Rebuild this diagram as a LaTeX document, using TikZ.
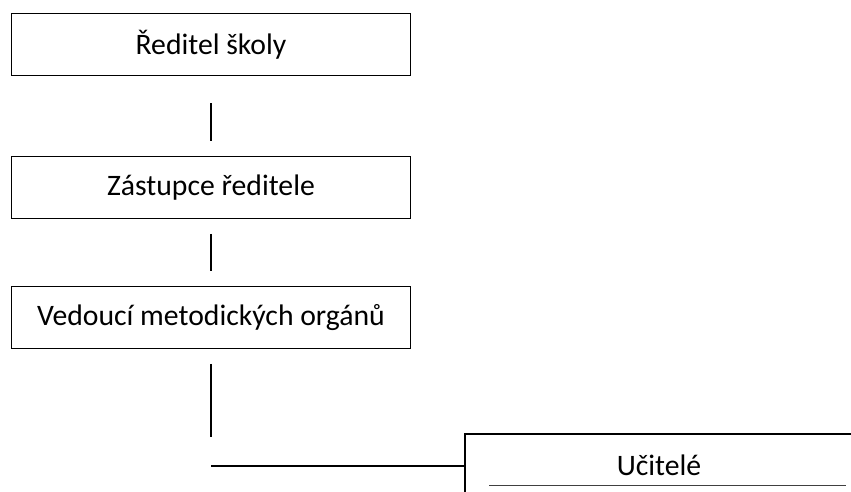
\documentclass[tikz,border=0pt]{standalone}
\usepackage{fontspec}
\setmainfont{Carlito}
\usetikzlibrary{positioning,calc}

\tikzset{
  rolebox/.style={draw,line width=1.8pt,minimum width=399pt,minimum height=62pt,
    inner sep=0pt,font=\fontsize{29.7}{34}\selectfont},
  link/.style={line width=2pt}
}

\begin{document}
\begin{tikzpicture}[x=1pt,y=-1pt]
    \useasboundingbox (0,0) rectangle (851,491);
    \node[rolebox] (reditel) at (211,44.5) {Ředitel školy};
    \node[rolebox] (zastupce) at (211,187.5) {Zástupce ředitele};
    \node[rolebox] (vedouci) at (211,317.5) {Vedoucí metodických orgánů};
    \node[rolebox,minimum width=388pt,minimum height=63pt] (ucitele) at (659,465.5) {Učitelé};
    % short vertical links, not touching the boxes
    \draw[link] ([yshift=-27pt]reditel.south) -- ([yshift=15pt]zastupce.north);
    \draw[link] ([yshift=-14.5pt]zastupce.south) -- ([yshift=14.5pt]vedouci.north);
    \draw[link] ([yshift=-14.5pt]vedouci.south) -- ([yshift=29pt]vedouci.south |- ucitele.west);
    \draw[link] (vedouci.south |- ucitele.west) -- (ucitele.west);
    % thin rule inside the last box
    \draw[line width=1.2pt,black!75] ([xshift=25pt,yshift=-52pt]ucitele.north west) -- ([xshift=-8pt,yshift=-52pt]ucitele.north east);
\end{tikzpicture}
\end{document}
